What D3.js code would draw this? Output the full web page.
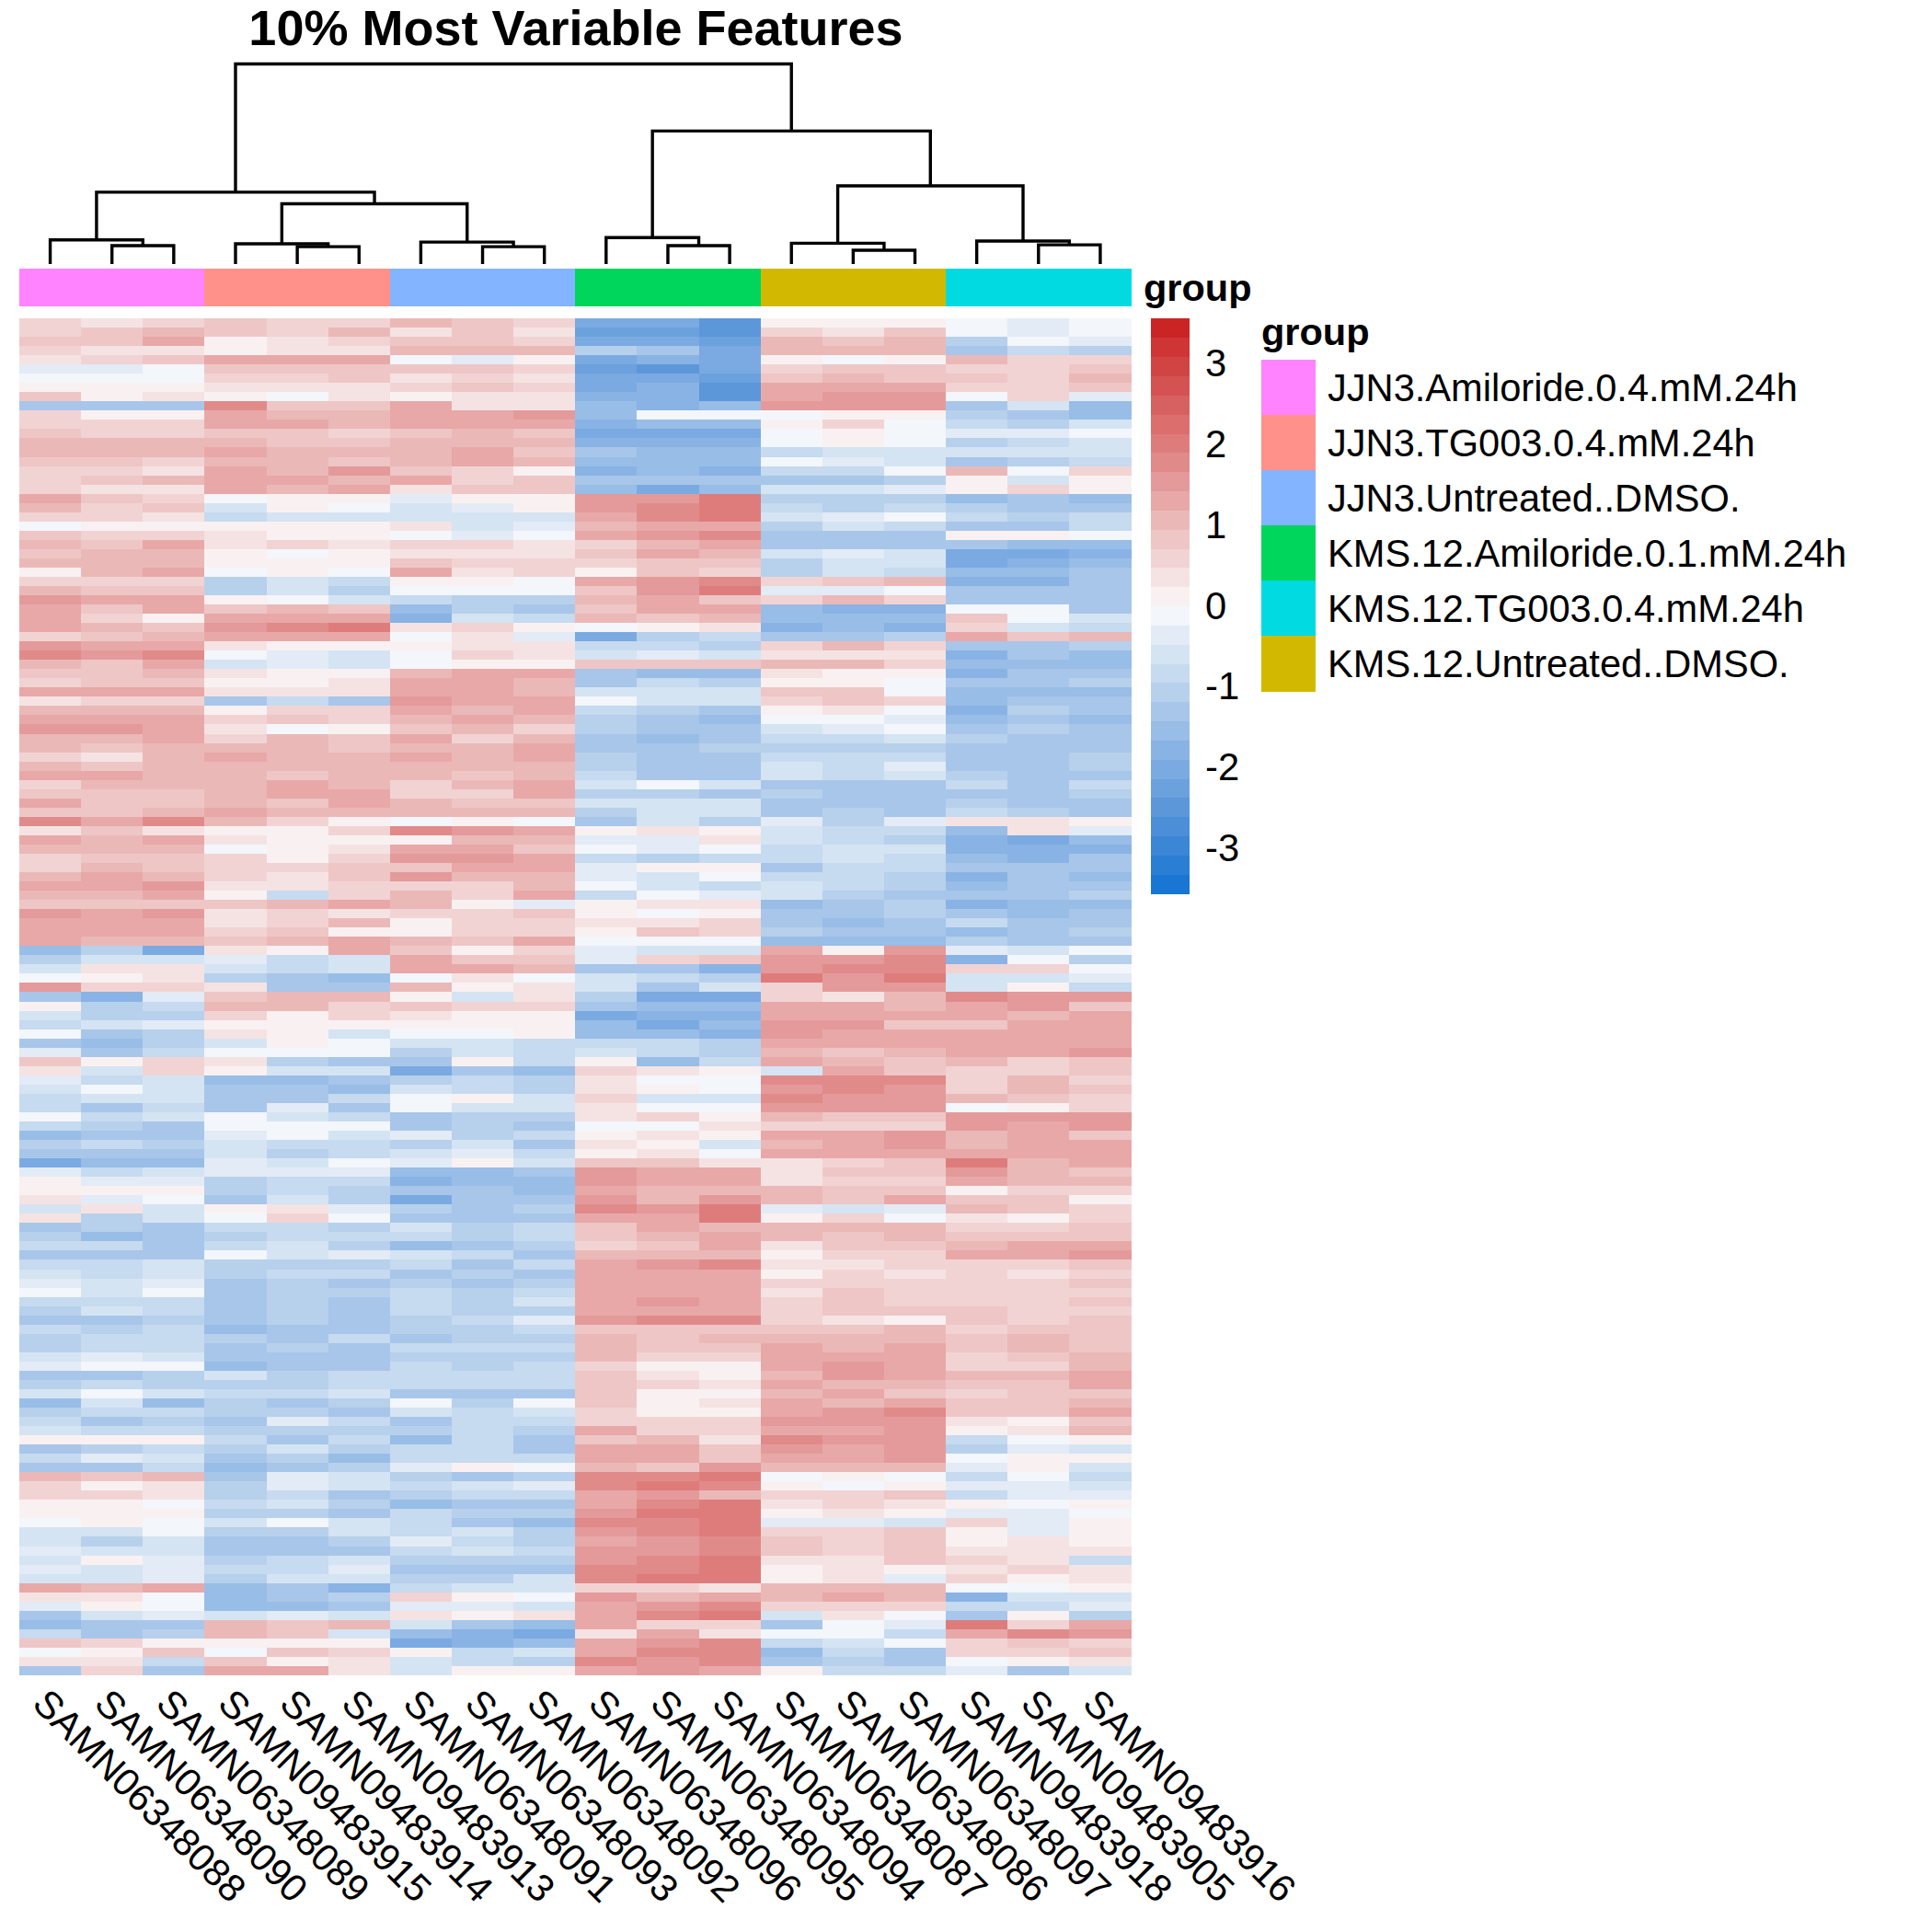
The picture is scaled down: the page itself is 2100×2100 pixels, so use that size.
<!DOCTYPE html>
<html>
<head>
<meta charset="utf-8">
<script src="https://d3js.org/d3.v7.min.js"></script>
<style>
  body { margin: 0; background: #fff; }
  text { font-family: "Liberation Sans", Arial, sans-serif; fill: #000; }
</style>
</head>
<body>
<div id="chart"></div>
<script>
var samples = ["SAMN06348088","SAMN06348090","SAMN06348089","SAMN09483915","SAMN09483914","SAMN09483913","SAMN06348091","SAMN06348093","SAMN06348092","SAMN06348096","SAMN06348095","SAMN06348094","SAMN06348087","SAMN06348086","SAMN06348097","SAMN09483918","SAMN09483905","SAMN09483916"];
var groups = ["JJN3.Amiloride.0.4.mM.24h","JJN3.TG003.0.4.mM.24h","JJN3.Untreated..DMSO.","KMS.12.Amiloride.0.1.mM.24h","KMS.12.TG003.0.4.mM.24h","KMS.12.Untreated..DMSO."];
var groupColors = ["#FF83FF","#FF918A","#83B4FF","#00D65C","#00DAE0","#D2B900"];
var sampleGroup = [0,0,0,1,1,1,2,2,2,3,3,3,5,5,5,4,4,4];
var ticks = [3,2,1,0,-1,-2,-3];
// colour steps, lowest to highest
var palette = ["#1976D2","#2A7ED3","#3B86D5","#4C8ED7","#5C97DA","#6BA1DD","#7AAAE1","#89B3E4","#98BDE7","#A8C6E9","#B7D0EC","#C6DAF0","#D5E4F3","#E3EBF6","#F3F6FA","#F9F1F1","#F5E3E3","#F2D3D3","#EEC6C6","#EBB8B8","#E8A8A8","#E49A9A","#E18A8A","#DE7C7C","#DC6E6E","#D76060","#D55252","#D14444","#CF3535","#CB2424"];
// merge heights, root = 100
var tree = {h:100,c:[
  {h:35.9,c:[
    {h:12.1,c:[{l:0},{h:9.2,c:[{l:1},{l:2}]}]},
    {h:30.1,c:[
      {h:10.1,c:[{l:3},{h:8.7,c:[{l:4},{l:5}]}]},
      {h:11.0,c:[{l:6},{h:8.7,c:[{l:7},{l:8}]}]}]}]},
  {h:66.5,c:[
    {h:13.2,c:[{l:9},{h:9.2,c:[{l:10},{l:11}]}]},
    {h:39.1,c:[
      {h:10.4,c:[{l:12},{h:6.9,c:[{l:13},{l:14}]}]},
      {h:11.5,c:[{l:15},{h:9.6,c:[{l:16},{l:17}]}]}]}]}]};

// heat values in tenths of a z score, top to bottom
var heatBand1 = [
[5,4,6,8,6,7,10,9,5,-19,-21,-24,1,0,2,-2,-4,-1],
[7,8,10,9,7,11,3,8,4,-22,-22,-24,6,3,8,-2,-4,-2],
[8,9,12,2,3,5,9,9,6,-20,-21,-23,11,9,10,-10,-2,-3],
[6,4,3,2,3,3,10,10,11,-11,-13,-20,10,10,11,-13,-8,-10],
[4,5,8,14,13,13,-1,-3,1,-20,-18,-21,1,-1,1,10,7,7],
[-3,-3,-1,8,8,9,8,8,7,-22,-24,-21,7,9,8,7,7,8],
[-2,-2,-1,7,7,8,3,6,3,-20,-20,-23,8,10,9,9,7,10],
[1,1,2,3,3,4,6,8,6,-20,-18,-24,13,13,14,5,6,9],
[9,2,3,1,-1,3,2,3,3,-17,-17,-24,12,15,15,-2,5,-4],
[-14,-14,-13,18,8,8,12,3,3,-16,-17,-15,15,16,16,-14,-5,-16],
[5,2,2,12,11,11,14,13,16,-15,-2,-1,-2,2,0,-11,-14,-15],
[6,5,6,12,12,11,14,14,13,-17,-16,-15,0,6,-1,-9,-10,-7],
[8,7,5,9,8,6,9,11,9,-20,-20,-19,-1,1,-1,-3,-3,-2],
[11,11,10,10,9,9,10,11,10,-17,-17,-18,-1,0,-1,-10,-8,-7],
[11,10,10,13,11,10,10,13,9,-14,-16,-15,-8,-7,-7,-7,-7,-6],
[8,8,7,11,10,9,10,13,11,-16,-16,-16,-1,-4,-6,-12,-10,-9],
[5,6,4,14,10,16,8,5,2,-17,-15,-18,-8,-9,-1,10,-1,7],
[5,9,11,12,13,10,13,6,8,-14,-12,-14,-12,-12,-10,2,-5,2],
[5,3,4,13,11,12,4,8,9,-16,-20,-16,-6,-7,-4,0,5,1],
[12,9,7,-2,2,0,-3,1,1,15,16,20,-10,-10,-10,-15,-14,-16],
[10,5,8,-6,1,-2,-5,-3,0,15,18,20,-9,-10,-9,-10,-12,-14]];
var heatBand2 = [
[7,5,4,-9,-5,-5,-5,-6,-7,14,17,19,-7,-3,-2,-9,-11,-8],
[-2,2,2,1,2,1,4,-6,-3,11,14,14,-10,-6,-8,-13,-13,-9],
[9,7,6,4,2,1,-1,-3,-1,14,16,17,-14,-13,-14,2,0,-1],
[11,9,12,3,5,3,7,5,4,6,10,12,-14,-13,-14,-13,-15,-15],
[9,10,11,0,-1,0,3,4,4,9,12,10,-6,-4,-7,-20,-19,-17],
[10,11,10,1,0,2,8,5,7,7,9,8,-11,-6,-7,-19,-18,-15],
[2,11,12,-1,0,-1,12,3,6,1,8,6,-10,-5,-8,-15,-15,-13],
[7,7,5,-11,-6,-8,2,0,-1,14,15,17,7,8,10,-18,-18,-12],
[10,8,9,-10,-7,-10,-2,-2,-1,9,15,19,-3,-3,-1,-13,-12,-13],
[16,14,13,2,-1,-6,-9,-10,-10,10,12,9,7,10,6,-14,-12,-14],
[13,8,13,9,10,9,-15,-11,-12,8,13,12,-16,-17,-17,-2,-1,-13],
[14,5,1,14,13,13,-18,-5,-8,10,8,10,-15,-15,-15,8,-2,-6],
[14,11,8,16,18,19,3,5,2,-1,2,3,-17,-15,-18,7,-5,-9],
[6,8,11,12,12,12,-1,4,-3,-20,-10,-8,-12,-12,-10,12,8,10],
[15,13,14,3,1,1,1,4,3,-9,-8,-10,7,10,6,-12,-12,-10],
[18,15,17,-2,-3,-6,-1,6,4,-5,-3,-7,3,4,4,-18,-13,-15],
[11,9,12,-7,-4,-7,-1,2,1,9,8,8,11,11,7,-16,-15,-15],
[9,8,10,3,1,2,10,14,12,-13,-16,-16,3,0,1,-17,-13,-13],
[6,9,9,2,1,4,14,14,11,-12,-9,-11,0,0,-1,-14,-12,-11],
[12,12,13,4,3,3,13,12,11,-6,-5,-7,8,8,-1,-15,-15,-16],
[3,7,6,-14,-9,-12,15,12,12,-2,-7,-5,6,9,6,-16,-14,-12]];
var heatBand3 = [
[11,10,11,2,7,7,14,11,12,-9,-10,-13,2,3,-2,-17,-11,-12],
[14,13,13,7,8,6,10,12,10,-11,-13,-15,-2,-2,-3,-16,-13,-16],
[15,15,13,4,-1,2,8,11,5,-11,-14,-13,-6,-3,-2,-12,-11,-12],
[11,10,13,5,10,8,14,7,11,-14,-15,-14,-8,-9,-7,-11,-13,-14],
[11,9,11,10,10,8,11,11,12,-12,-14,-11,-11,-10,-10,-13,-13,-12],
[5,3,10,12,11,11,13,11,13,-11,-12,-12,-8,-8,-8,-12,-13,-11],
[10,9,10,11,10,11,11,11,10,-10,-12,-14,-7,-8,-4,-13,-12,-11],
[12,13,11,10,9,11,10,9,11,-9,-13,-12,-6,-8,-6,-10,-12,-12],
[5,10,10,11,12,11,5,11,12,-7,-2,-6,-14,-13,-13,-9,-14,-8],
[9,9,9,10,13,13,5,6,12,-11,-11,-13,-11,-12,-12,-13,-12,-10],
[12,9,8,11,9,14,10,8,8,-7,-6,-6,-12,-13,-13,-11,-13,-12],
[8,9,10,14,11,11,11,10,10,-11,-7,-7,-12,-11,-12,-9,-11,-12],
[18,13,18,10,7,2,-1,2,-1,-14,-6,-11,-3,-10,-3,3,3,0],
[4,8,3,0,2,7,18,15,14,2,4,2,-5,-8,-8,-15,4,-3],
[12,10,13,4,1,2,0,11,10,-4,-4,3,-5,-8,-10,-18,-19,-16],
[11,11,10,-1,0,3,14,12,8,-2,-4,-1,-8,-7,-6,-18,-17,-17],
[7,9,8,6,2,6,15,16,14,-9,-10,-8,-9,-5,-9,-15,-17,-13],
[7,11,9,6,6,8,8,12,13,-4,0,0,-12,-9,-9,-13,-13,-13],
[11,12,11,5,3,8,15,10,11,-4,-5,-2,-8,-8,-10,-17,-13,-15],
[14,12,15,3,3,5,7,7,11,-1,-5,-8,-7,-9,-10,-15,-14,-13],
[11,10,13,1,-9,5,10,5,12,-8,-1,-3,-7,-11,-14,-13,-13,-11]];
var heatBand4 = [
[8,8,9,9,11,14,10,2,-3,1,4,4,-16,-14,-11,-17,-16,-16],
[15,12,15,3,6,4,6,7,9,1,-1,0,-13,-13,-11,-14,-16,-13],
[13,14,13,4,5,11,2,7,7,4,3,7,-13,-15,-13,-9,-13,-14],
[14,12,14,7,8,2,2,6,5,1,9,6,-11,-12,-12,-15,-14,-11],
[13,11,11,8,11,12,10,8,12,-2,-2,-1,-15,-15,-15,-10,-14,-14],
[-16,-11,-20,3,0,12,8,0,5,-3,-7,-5,12,2,15,-4,-7,-2],
[-11,-5,-6,-3,-9,-6,14,9,9,-3,6,9,15,16,17,-18,-1,-11],
[-6,3,3,-6,-8,-7,12,14,11,-12,-12,-18,15,17,17,5,6,-2],
[-2,2,3,-11,-14,-15,-2,3,-1,-6,-9,-11,19,16,20,-7,-5,-3],
[16,5,6,4,-13,-13,10,1,4,-7,-14,-6,6,15,16,-5,0,-9],
[-13,-17,-4,8,11,11,0,-7,3,-11,-19,-20,7,3,10,18,15,15],
[0,-10,-9,10,10,7,9,7,5,-13,-15,-15,13,12,11,12,15,9],
[-6,-11,-10,6,0,5,3,1,0,-20,-18,-18,12,13,12,12,11,12],
[-9,-5,-3,1,0,2,0,1,2,-15,-19,-16,15,15,9,9,13,13],
[-2,-13,-11,3,0,-7,-1,-1,0,-15,-16,-18,15,14,14,12,12,13],
[-13,-15,-11,-6,2,-1,-7,-6,-8,-8,-9,-11,12,13,14,13,14,14],
[-4,-13,-9,-1,-1,-2,-11,-6,-8,-5,-8,-11,10,8,11,14,14,15],
[8,1,7,3,-10,-12,-12,1,-8,2,-15,-8,13,10,9,11,7,8],
[3,-7,5,2,-7,-6,-20,-14,-16,5,3,1,-6,14,8,6,6,8],
[-4,-8,-5,-15,-16,-14,-10,-8,-11,3,-1,-1,17,18,17,5,10,6],
[-5,-2,-6,-14,-14,-15,-7,-9,-10,3,1,-1,16,17,16,6,10,8]];
var heatBand5 = [
[-8,-5,-6,-12,-12,-9,-2,0,-5,7,-7,-7,17,16,15,10,9,5],
[-8,-14,-8,-13,-3,-13,-2,-6,-5,3,-1,-2,15,16,16,-1,2,6],
[-2,-9,-7,-1,-7,-9,-12,-10,-10,3,6,1,10,9,8,16,15,16],
[-9,-10,-12,-1,-2,-2,-12,-11,-13,-1,-2,3,7,6,7,15,14,15],
[-15,-13,-12,-3,-2,-5,-4,-10,-8,1,3,2,13,14,16,11,14,9],
[-11,-8,-10,-7,-8,-8,-10,-6,-13,3,0,-5,11,14,15,11,13,13],
[-14,-13,-14,-7,-10,-9,-6,-3,-8,0,3,-1,13,14,13,13,12,12],
[-19,-16,-16,-4,-5,-2,-4,1,-7,8,8,4,4,7,8,19,11,12],
[-4,-9,-6,-3,-3,-3,-15,-15,-14,16,13,13,4,8,8,15,10,8],
[0,-4,-3,-10,-8,-8,-17,-16,-15,15,13,12,3,6,7,13,11,10],
[2,0,1,-11,-9,-10,-13,-14,-15,14,11,11,11,9,8,1,7,5],
[4,-4,-2,-12,-6,-10,-20,-14,-12,16,11,15,10,9,12,8,9,1],
[-7,3,-7,2,3,-3,-11,-14,-11,18,15,19,-3,-7,-4,10,8,5],
[3,-11,-6,-2,5,-1,-13,-13,-12,14,14,20,1,6,-1,3,2,7],
[-14,-11,-12,-9,-9,-10,-7,-10,-9,9,12,11,10,10,11,7,7,9],
[-11,-16,-13,-10,-9,-9,-8,-11,-9,8,11,13,10,9,11,8,8,9],
[-9,-9,-12,-8,-7,-10,-15,-14,-11,7,8,12,4,8,8,11,12,13],
[-13,-13,-13,-2,-6,-3,-7,-9,-13,11,11,10,2,7,7,14,13,16],
[-9,-8,-7,-10,-10,-10,-9,-12,-9,14,15,17,3,4,6,5,7,8],
[-7,-9,-7,-11,-9,-8,-14,-10,-13,13,14,14,1,5,4,5,4,7],
[-3,-6,-3,-13,-10,-13,-10,-12,-11,13,13,14,6,6,7,6,6,9]];
var heatBand6 = [
[-1,-5,-2,-12,-10,-11,-8,-11,-9,14,14,14,3,8,6,7,5,7],
[-9,-8,-8,-14,-10,-12,-8,-11,-6,12,15,13,6,8,7,6,5,8],
[-11,-7,-9,-14,-10,-13,-9,-10,-11,13,14,14,6,9,9,8,5,7],
[-13,-13,-11,-12,-10,-12,-11,-9,-3,16,18,18,7,3,1,9,6,9],
[-9,-10,-8,-16,-12,-13,-10,-10,-8,9,9,8,9,9,10,7,9,8],
[-10,-9,-9,-10,-12,-9,-13,-11,-10,11,9,11,10,11,11,8,10,9],
[-11,-9,-8,-12,-10,-13,-9,-9,-9,11,8,9,13,10,12,8,10,9],
[-5,-4,-5,-14,-12,-13,-10,-11,-11,10,6,7,14,13,14,5,9,10],
[-4,-2,-2,-16,-12,-14,-9,-11,-9,5,2,1,12,15,13,7,6,10],
[-13,-12,-11,-6,-10,-8,-9,-8,-9,8,4,2,11,15,12,10,10,13],
[-10,-8,-10,-10,-10,-9,-9,-8,-9,9,6,3,12,11,11,9,9,12],
[-7,-1,-6,-9,-9,-7,-13,-12,-14,9,1,1,11,12,9,7,8,9],
[-15,-6,-15,-10,-13,-10,-2,-11,-2,9,2,3,13,11,12,8,8,10],
[-11,-9,-9,-11,-11,-12,-6,-9,-5,7,2,1,14,15,17,8,9,12],
[-8,-12,-10,-12,-3,-9,-14,-9,-9,5,6,6,15,15,16,3,2,9],
[-5,-8,-9,-10,-10,-11,-11,-9,-10,13,7,5,14,14,15,1,3,10],
[1,0,1,-9,-12,-8,-15,-8,-12,9,11,4,18,16,15,-8,-2,0],
[-12,-10,-9,-11,-5,-11,-8,-9,-12,14,13,9,15,14,15,-10,-4,-7],
[-9,-3,-7,-13,-11,-16,-8,-8,-8,14,14,9,14,13,15,-1,1,1],
[-12,-12,-9,-15,-12,-11,-3,0,-1,10,8,16,11,11,10,-3,2,-6],
[11,8,11,-12,-3,-6,-11,-12,-11,17,18,19,-1,1,-1,-8,-2,-8]];
var heatBand7 = [
[5,1,3,-11,-4,-7,-8,-7,-3,18,19,17,0,-1,0,-4,-3,-6],
[6,5,4,-10,-9,-14,-11,-8,-9,13,16,10,6,6,9,-8,-3,-4],
[2,1,-1,-8,-6,-11,-16,-12,-12,14,18,20,4,5,3,1,-1,1],
[1,0,0,-10,-10,-12,-8,-10,-11,16,19,21,2,3,1,-4,-4,-1],
[-1,0,-1,-7,-2,-6,-8,-12,-15,17,17,19,-3,-4,-5,6,-3,2],
[-7,-5,-2,-11,-11,-5,-8,-5,-10,16,18,19,7,7,9,2,-3,0],
[-5,-10,-5,-13,-12,-10,-3,-8,-11,14,16,17,8,7,9,2,3,0],
[-4,-5,-5,-13,-12,-13,-9,-6,-8,15,16,18,8,6,9,3,3,3],
[-5,2,-3,-10,-8,-5,-11,-10,-11,15,18,19,3,4,8,6,3,-8],
[-3,-7,-4,-9,-9,-4,-14,-12,-13,17,18,19,1,4,2,4,6,4],
[-7,-6,-4,-10,-6,-7,-10,-10,-6,18,20,20,2,3,-4,6,2,3],
[13,10,12,-15,-14,-17,-9,-5,-7,6,6,3,11,10,11,-2,-2,1],
[3,4,-2,-15,-14,-11,5,1,-1,15,10,13,11,12,11,-17,-6,-5],
[-4,1,-2,-15,-15,-14,-4,-3,-6,14,16,17,6,6,6,-9,-8,-3],
[-12,-7,-3,-5,-3,-6,3,2,3,14,18,19,-6,3,-1,-13,1,-11],
[-16,-14,-13,10,9,11,-6,-13,-16,12,6,7,-12,-2,-3,20,6,13],
[-8,-12,-11,11,9,-5,-16,-17,-19,4,14,4,-1,-1,-8,14,17,15],
[8,7,1,1,1,1,-19,-18,-15,14,16,17,-9,-7,-2,7,8,6],
[-2,0,9,-1,8,6,2,-9,-5,14,17,18,-16,-8,-12,6,6,9],
[4,4,-9,8,1,4,-6,-8,-11,17,15,18,-12,-11,-13,-1,0,3],
[-12,5,-13,14,14,3,-5,2,2,14,15,13,0,-8,-9,-4,-12,-6]];
var heatRows = [].concat(heatBand1, heatBand2, heatBand3, heatBand4, heatBand5, heatBand6, heatBand7);

var W = 2100, H = 2100;
var heat = {x0: 21, x1: 1229.5, y0: 346, y1: 1821};
var svg = d3.select("#chart").append("svg").attr("width", W).attr("height", H);

svg.append("text").attr("x", 626).attr("y", 49).attr("text-anchor", "middle")
  .attr("font-size", 54).attr("font-weight", "bold").text("10% Most Variable Features");

var x = d3.scaleBand().domain(d3.range(samples.length)).range([heat.x0, heat.x1]);
var y = d3.scaleBand().domain(d3.range(heatRows.length)).range([heat.y0, heat.y1]);
var limit = 3.56;
var color = d3.scaleQuantize().domain([-limit, limit]).range(palette);

// dendrogram
var dh = d3.scaleLinear().domain([0, 100]).range([287, 69.5]);
var root = d3.hierarchy(tree, function(d) { return d.c; });
root.eachAfter(function(n) {
  n.px = n.children ? d3.mean(n.children, function(c) { return c.px; }) : x(n.data.l) + x.bandwidth() / 2;
  n.py = dh(n.data.h || 0);
});
svg.append("g").selectAll("path").data(root.descendants().filter(function(n) { return n.children; }))
  .enter().append("path")
  .attr("fill", "none").attr("stroke", "#000").attr("stroke-width", 3.4)
  .attr("d", function(n) {
    var a = n.children[0], b = n.children[1];
    return "M" + a.px + "," + a.py + "V" + n.py + "H" + b.px + "V" + b.py;
  });

// annotation bar
svg.append("g").selectAll("rect").data(sampleGroup).enter().append("rect")
  .attr("x", function(d, i) { return x(i); }).attr("y", 292)
  .attr("width", x.bandwidth() + 0.5).attr("height", 41)
  .attr("fill", function(d) { return groupColors[d]; }).attr("shape-rendering", "crispEdges");
svg.append("text").attr("x", 1243).attr("y", 327).attr("font-size", 41.5).attr("font-weight", "bold").text("group");

// heat
var rowG = svg.append("g").attr("shape-rendering", "crispEdges").selectAll("g").data(heatRows).enter().append("g")
  .attr("transform", function(d, i) { return "translate(0," + y(i) + ")"; });
rowG.selectAll("rect").data(function(d) { return d; }).enter().append("rect")
  .attr("x", function(d, i) { return x(i); })
  .attr("width", x.bandwidth() + 0.5).attr("height", y.bandwidth() + 0.5)
  .attr("fill", function(d) { return color(d / 10); });

// column labels
svg.append("g").selectAll("text").data(samples).enter().append("text")
  .attr("transform", function(d, i) { return "translate(" + (x(i) + x.bandwidth() / 2 - 10.7) + ",1843.5) rotate(45)"; })
  .attr("dy", "0.35em").attr("font-size", 41.7).text(function(d) { return d; });

// colour bar
var barY = d3.scaleBand().domain(d3.range(30)).range([971, 346]);
svg.append("g").attr("shape-rendering", "crispEdges").selectAll("rect").data(palette).enter().append("rect")
  .attr("x", 1251).attr("width", 42)
  .attr("y", function(d, i) { return barY(i); }).attr("height", barY.bandwidth() + 0.5)
  .attr("fill", function(d) { return d; });
var tickY = d3.scaleLinear().domain([-limit, limit]).range([971, 346]);
svg.append("g").selectAll("text").data(ticks).enter().append("text")
  .attr("x", 1310).attr("y", function(d) { return tickY(d) + 14; })
  .attr("font-size", 41.7).text(function(d) { return d; });

// legend
svg.append("text").attr("x", 1371).attr("y", 375).attr("font-size", 41.5).attr("font-weight", "bold").text("group");
var leg = svg.append("g").selectAll("g").data(groups).enter().append("g")
  .attr("transform", function(d, i) { return "translate(1371," + (391 + i * 60) + ")"; });
leg.append("rect").attr("width", 59).attr("height", 60.5).attr("shape-rendering", "crispEdges")
  .attr("fill", function(d, i) { return groupColors[i]; });
leg.append("text").attr("x", 72).attr("y", 45).attr("font-size", 41.6).text(function(d) { return d; });
</script>
</body>
</html>
